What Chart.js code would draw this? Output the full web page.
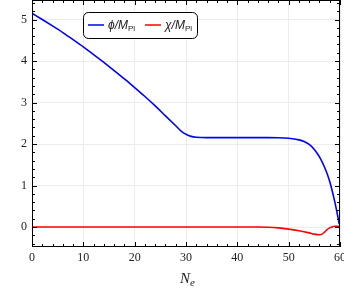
<!DOCTYPE html>
<html>
<head>
<meta charset="utf-8">
<script src="https://cdn.jsdelivr.net/npm/chart.js@4/dist/chart.umd.min.js"></script>
<style>
  html, body { margin: 0; padding: 0; background: #fff; }
  #wrap { width: 344px; height: 288px; }
</style>
</head>
<body>
<div id="wrap"><canvas id="chart"></canvas></div>
<script>
// values
const nPhi = [0, 2, 4, 6, 8, 10, 12, 14, 16, 18, 20, 22, 24, 26, 28, 29, 30, 31, 32, 34, 38, 42, 46, 48, 50, 52, 53, 54, 55, 56, 57, 58, 59, 59.5, 59.85];
const phi = [5.15, 5.00, 4.845, 4.685, 4.515, 4.34, 4.155, 3.965, 3.77, 3.57, 3.36, 3.145, 2.92, 2.68, 2.44, 2.32, 2.235, 2.185, 2.165, 2.155, 2.155, 2.155, 2.155, 2.153, 2.14, 2.10, 2.06, 1.99, 1.87, 1.69, 1.44, 1.10, 0.60, 0.30, 0.07];
const nChi = [0, 10, 20, 30, 40, 44, 46, 48, 50, 52, 54, 55, 56, 56.5, 57, 57.5, 58, 58.5, 59, 60];
const chi = [0, 0, 0, 0, 0, 0, -0.005, -0.02, -0.05, -0.09, -0.14, -0.17, -0.185, -0.17, -0.12, -0.06, -0.02, 0.01, 0.02, 0.02];

const xTicks = [0, 10, 20, 30, 40, 50, 60];
const yTicks = [0, 1, 2, 3, 4, 5];
const xMinorStep = 2;
const yMinorStep = 0.2;

const seriesNames = [['\u03d5', 'M', 'Pl'], ['\u03c7', 'M', 'Pl']];
const seriesColors = ['#0000ff', '#ff0000'];

const serif = "'Liberation Serif', 'DejaVu Serif', serif";
const sans = "'Liberation Sans', 'DejaVu Sans', sans-serif";

const pts = (xs, ys) => xs.map((v, i) => ({x: v, y: ys[i]}));

// frame with inward ticks on all four sides, Mathematica style
const frame = {
    id: 'frame',
    afterDatasetsDraw(chart) {
        const {ctx, chartArea: a, scales: {x, y}} = chart;
        ctx.save();
        ctx.strokeStyle = '#000';
        ctx.lineWidth = 1;
        ctx.beginPath();
        for (let v = x.min; v <= x.max + 1e-6; v += xMinorStep) {
            const px = Math.round(x.getPixelForValue(v)) + 0.5;
            const len = xTicks.includes(Math.round(v)) && Math.abs(v - Math.round(v)) < 1e-6 ? 5 : 3;
            ctx.moveTo(px, a.bottom); ctx.lineTo(px, a.bottom - len);
            ctx.moveTo(px, a.top); ctx.lineTo(px, a.top + len);
        }
        const start = Math.ceil(y.min / yMinorStep) * yMinorStep;
        for (let v = start; v <= y.max + 1e-6; v += yMinorStep) {
            const py = Math.round(y.getPixelForValue(v)) + 0.5;
            const major = Math.abs(v - Math.round(v)) < 1e-6;
            const len = major ? 5 : 3;
            ctx.moveTo(a.left, py); ctx.lineTo(a.left + len, py);
            ctx.moveTo(a.right, py); ctx.lineTo(a.right - len, py);
        }
        ctx.stroke();
        ctx.strokeRect(a.left + 0.5, a.top + 0.5, a.right - a.left - 1, a.bottom - a.top - 1);
        ctx.restore();
    },
    afterDraw(chart) {
        const {ctx, chartArea: a} = chart;
        ctx.save();
        // axis title N_e
        const cx = (a.left + a.right) / 2;
        ctx.fillStyle = '#222';
        ctx.textBaseline = 'alphabetic';
        ctx.font = 'italic 15px ' + serif;
        const wN = ctx.measureText('N').width;
        ctx.fillText('N', cx - 6, 283);
        ctx.font = 'italic 11px ' + serif;
        ctx.fillText('e', cx - 6 + wN, 286);

        // legend box
        const bx = 83.5, by = 12.5, bw = 114, bh = 26, r = 5;
        ctx.beginPath();
        ctx.roundRect(bx, by, bw, bh, r);
        ctx.fillStyle = '#fff';
        ctx.fill();
        ctx.strokeStyle = '#000';
        ctx.lineWidth = 1;
        ctx.stroke();
        const items = [{x: 88}, {x: 145}];
        items.forEach((it, i) => {
            const [sym, m, sub] = seriesNames[i];
            ctx.strokeStyle = seriesColors[i];
            ctx.lineWidth = 1.5;
            ctx.beginPath();
            ctx.moveTo(it.x, 25); ctx.lineTo(it.x + 16, 25);
            ctx.stroke();
            ctx.fillStyle = '#222';
            let tx = it.x + 20;
            ctx.font = 'italic 12px ' + sans;
            const main = sym + '/' + m;
            ctx.fillText(main, tx, 29);
            tx += ctx.measureText(main).width;
            ctx.font = '8px ' + sans;
            ctx.fillText(sub, tx, 31);
        });
        ctx.restore();
    }
};

new Chart(document.getElementById('chart'), {
    type: 'line',
    data: {
        datasets: [{
            label: 'phi/M_Pl',
            data: pts(nPhi, phi),
            borderColor: seriesColors[0],
            borderWidth: 1.6,
            pointRadius: 0,
            cubicInterpolationMode: 'monotone',
            fill: false
        }, {
            label: 'chi/M_Pl',
            data: pts(nChi, chi),
            borderColor: seriesColors[1],
            borderWidth: 1.6,
            pointRadius: 0,
            cubicInterpolationMode: 'monotone',
            fill: false
        }]
    },
    options: {
        responsive: true,
        maintainAspectRatio: false,
        animation: false,
        devicePixelRatio: 1,
        layout: { padding: { top: 0, right: 4, left: 0, bottom: 0 } },
        plugins: { legend: { display: false }, tooltip: { enabled: false } },
        scales: {
            x: {
                type: 'linear',
                min: 0,
                max: 60,
                afterBuildTicks: s => { s.ticks = xTicks.map(v => ({value: v})); },
                afterFit: s => { s.height = 41; s.paddingLeft = 0; s.paddingRight = 0; },
                grid: { color: '#ececec', lineWidth: 1, drawTicks: false },
                border: { display: false },
                ticks: { padding: 4, color: '#222', font: { family: serif, size: 12 }, maxRotation: 0 }
            },
            y: {
                type: 'linear',
                min: -0.48,
                max: 5.47,
                afterBuildTicks: s => { s.ticks = yTicks.map(v => ({value: v})); },
                afterFit: s => { s.width = 32; s.paddingTop = 0; s.paddingBottom = 0; },
                grid: { color: '#ececec', lineWidth: 1, drawTicks: false },
                border: { display: false },
                ticks: { padding: 5, color: '#222', font: { family: serif, size: 12 } }
            }
        }
    },
    plugins: [frame]
});
</script>
</body>
</html>
